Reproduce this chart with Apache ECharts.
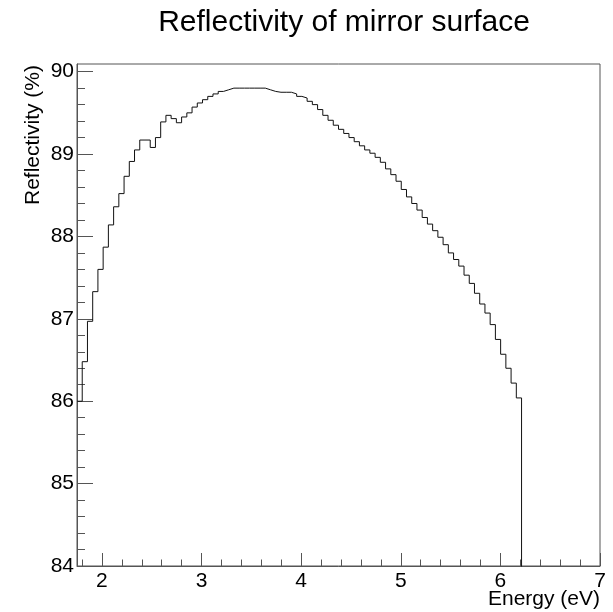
<!DOCTYPE html>
<html>
<head>
<meta charset="utf-8">
<script src="https://cdn.jsdelivr.net/npm/echarts@6/dist/echarts.min.js"></script>
<style>
html,body{margin:0;padding:0;background:#fff;}
#chart{width:613px;height:612px;}
</style>
</head>
<body>
<div id="chart"></div>
<script>
// Histogram binning (ROOT TH1): 100 bins from 1.75 to 7 eV
var binLow = 1.75;
var binHigh = 7;
var nBins = 100;
// bin contents (reflectivity %), bins 0..99
var reflectivity = [
  86.00, 86.48, 86.97, 87.33, 87.60, 87.87, 88.14, 88.36, 88.52, 88.73,
  88.91, 89.05, 89.17, 89.17, 89.08, 89.20, 89.39, 89.47, 89.43, 89.38,
  89.45, 89.50, 89.57, 89.62, 89.66, 89.70, 89.73, 89.76, 89.78, 89.80,
  89.80, 89.80, 89.80, 89.80, 89.80, 89.80, 89.78, 89.76, 89.75, 89.75,
  89.75, 89.73, 89.70, 89.68, 89.64, 89.60, 89.54, 89.47, 89.41, 89.35,
  89.30, 89.25, 89.20, 89.15, 89.10, 89.05, 89.01, 88.96, 88.90, 88.82,
  88.75, 88.67, 88.57, 88.48, 88.40, 88.32, 88.23, 88.15, 88.07, 87.99,
  87.90, 87.80, 87.72, 87.64, 87.53, 87.43, 87.31, 87.18, 87.07, 86.93,
  86.75, 86.57, 86.40, 86.22, 86.04, 0, 0, 0, 0, 0,
  0, 0, 0, 0, 0, 0, 0, 0, 0, 0
];
var xTickLabels = [2, 3, 4, 5, 6, 7];
var yTickLabels = [84, 85, 86, 87, 88, 89, 90];
var yMin = 84, yMax = 90.093;

var titleText = 'Reflectivity of mirror surface';
var xTitle = 'Energy (eV)';
var yTitle = 'Reflectivity (%)';

// minor ticks every 0.2
var xMinor = [];
for (var t = 18; t <= 70; t += 2) xMinor.push(t / 10);
var yMinor = [];
for (var u = 840; u <= 900; u += 2) yMinor.push(u / 10);

// step points at bin low edges
var binWidth = (binHigh - binLow) / nBins;
var stepData = [];
for (var i = 0; i < nBins; i++) {
  stepData.push([binLow + i * binWidth, reflectivity[i]]);
}
stepData.push([binHigh, reflectivity[nBins - 1]]);

var FONT = 'Liberation Sans, Arial, Helvetica, sans-serif';
var AXC = '#555';

var chart = echarts.init(document.getElementById('chart'), null, {renderer: 'canvas'});
var option = {
  animation: false,
  backgroundColor: '#fff',
  title: {
    text: titleText,
    left: 339,
    top: 3,
    textAlign: 'center',
    textStyle: {fontFamily: FONT, fontSize: 30, fontWeight: 'normal', color: '#000'}
  },
  grid: {
    left: 77, right: 13, top: 64, bottom: 46,
    show: true, borderColor: AXC, borderWidth: 1, backgroundColor: 'transparent'
  },
  xAxis: [
    {
      type: 'value', min: binLow, max: binHigh, position: 'bottom',
      axisLine: {show: true, onZero: false, lineStyle: {color: AXC, width: 1}},
      axisTick: {show: true, inside: true, length: 13, customValues: xTickLabels, lineStyle: {color: AXC}},
      axisLabel: {show: true, customValues: xTickLabels, margin: 5, fontFamily: FONT, fontSize: 21, color: '#000'},
      splitLine: {show: false}
    },
    {
      type: 'value', min: binLow, max: binHigh, position: 'bottom',
      axisLine: {show: false, onZero: false},
      axisTick: {show: true, inside: true, length: 6.5, customValues: xMinor, lineStyle: {color: AXC}},
      axisLabel: {show: false},
      splitLine: {show: false}
    }
  ],
  yAxis: [
    {
      type: 'value', min: yMin, max: yMax, position: 'left',
      axisLine: {show: true, onZero: false, lineStyle: {color: AXC, width: 1}},
      axisTick: {show: true, inside: true, length: 16, customValues: yTickLabels, lineStyle: {color: AXC}},
      axisLabel: {show: true, customValues: yTickLabels, margin: 3, fontFamily: FONT, fontSize: 21, color: '#000'},
      splitLine: {show: false}
    },
    {
      type: 'value', min: yMin, max: yMax, position: 'left',
      axisLine: {show: false, onZero: false},
      axisTick: {show: true, inside: true, length: 8, customValues: yMinor, lineStyle: {color: AXC}},
      axisLabel: {show: false},
      splitLine: {show: false}
    }
  ],
  graphic: [
    {
      type: 'text', x: 600, y: 599,
      style: {text: xTitle, font: '21px ' + FONT, fill: '#000', align: 'right', verticalAlign: 'middle'}
    },
    {
      type: 'text', x: 33, y: 65, rotation: Math.PI / 2,
      style: {text: yTitle, font: '21px ' + FONT, fill: '#000', align: 'right', verticalAlign: 'middle'}
    }
  ],
  series: [
    {
      type: 'line', xAxisIndex: 0, yAxisIndex: 0,
      step: 'end', data: stepData, showSymbol: false, symbol: 'none',
      clip: true,
      lineStyle: {color: '#111', width: 1}
    }
  ]
};
chart.setOption(option);
</script>
</body>
</html>
